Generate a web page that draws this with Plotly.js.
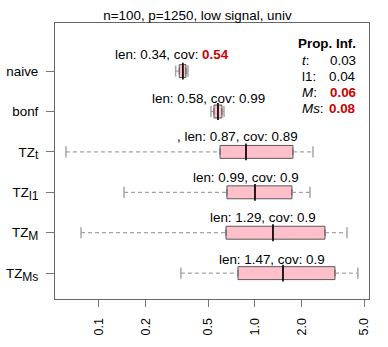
<!DOCTYPE html>
<html>
<head>
<meta charset="utf-8">
<script src="https://cdn.plot.ly/plotly-3.0.1.min.js"></script>
<style>
  html, body { margin: 0; padding: 0; background: #fff; }
  #chart { width: 388px; height: 347px; }
</style>
</head>
<body>
<div id="chart"></div>
<script>
// rows from top to bottom
const methods = ['naive', 'bonf', 'TZ', 'TZ', 'TZ', 'TZ'];
const methodSub = ['', '', 't', 'l1', 'M', 'Ms'];
const rowPos = [6, 5, 4, 3, 2, 1];

// interval lengths (log x axis)
const whiskLo = [0.310, 0.522, 0.0614, 0.1446, 0.0767, 0.335];
const q1      = [0.327, 0.546, 0.597, 0.661, 0.652, 0.778];
const median  = [0.345, 0.579, 0.876, 1.000, 1.304, 1.512];
const q3      = [0.361, 0.614, 1.752, 1.726, 2.810, 3.257];
const whiskHi = [0.372, 0.633, 2.354, 2.252, 3.890, 4.570];

// labels above each box
const lenVals = [0.34, 0.58, 0.87, 0.99, 1.29, 1.47];
const covVals = [0.54, 0.99, 0.89, 0.9, 0.9, 0.9];
const covLow = [true, false, false, false, false, false];
const labelPrefix = ['', '', ', ', '', '', ''];
const labelX = [0.294, 0.504, 0.773, 0.871, 1.125, 1.294];
const labelShift = [17, 13, 15, 15, 15, 14];

// "Prop. Inf." table
const propNames = ['<i>t</i>:', 'l1:', '<i>M</i>:', '<i>Ms</i>:'];
const propVals = ['0.03', '0.04', '0.06', '0.08'];
const propHot = [false, false, true, true];

const xTicks = [0.1, 0.2, 0.5, 1, 2, 5];
const xTickText = ['0.1', '0.2', '0.5', '1.0', '2.0', '5.0'];

const RED = '#CD0000';
const FONT = 'Liberation Sans, Arial, Helvetica, sans-serif';

// dashed whiskers
let wx = [], wy = [];
rowPos.forEach((y, i) => {
    wx.push(whiskLo[i], q1[i], null, q3[i], whiskHi[i], null);
    wy.push(y, y, null, y, y, null);
});

let staplesX = [], staplesY = [];
rowPos.forEach((y, i) => {
    staplesX.push(whiskLo[i], whiskHi[i]);
    staplesY.push(y, y);
});

let data = [
    {
        x: wx, y: wy,
        type: 'scatter', mode: 'lines',
        line: { color: '#8c8c8c', width: 1, dash: '4px,3px' },
        hoverinfo: 'skip'
    },
    {
        x: staplesX, y: staplesY,
        type: 'scatter', mode: 'markers',
        marker: { symbol: 'line-ns', size: 8, line: { color: '#a6a6a6', width: 1.5 } },
        hoverinfo: 'skip'
    },
    {
        type: 'box',
        orientation: 'h',
        y: rowPos,
        q1: q1,
        median: median,
        q3: q3,
        lowerfence: q1,
        upperfence: q3,
        width: 0.32,
        fillcolor: '#FFC0CB',
        line: { color: '#5a5a5a', width: 1 },
        hoverinfo: 'skip'
    },
    {
        x: median, y: rowPos,
        type: 'scatter', mode: 'markers',
        marker: { symbol: 'line-ns', size: 12, line: { color: '#000', width: 1.6 } },
        hoverinfo: 'skip'
    }
];

// y labels: TZ with a fairly large, low subscript, like R plotmath
let yLabels = methods.map((m, i) => methodSub[i]
    ? `${m}<sub><span style="font-size:12px">${methodSub[i]}</span></sub>`
    : m);

let annotations = rowPos.map((y, i) => {
    let cov = covLow[i]
        ? `<b><span style="color:${RED}">${covVals[i]}</span></b>`
        : `${covVals[i]}`;
    return {
        x: Math.log10(labelX[i]), y: y,
        xref: 'x', yref: 'y',
        yshift: labelShift[i],
        text: `${labelPrefix[i]}len: ${lenVals[i]}, cov: ${cov}`,
        showarrow: false,
        xanchor: 'center', yanchor: 'middle',
        font: { size: 13.4, color: '#000' }
    };
});

annotations.push({
    x: 0.965, y: 0.924, xref: 'paper', yref: 'paper',
    text: '<b>Prop. Inf.</b>', showarrow: false,
    xanchor: 'right', yanchor: 'middle',
    font: { size: 13.4, color: '#000' }
});
const propY = [0.863, 0.806, 0.75, 0.689];
propNames.forEach((name, i) => {
    annotations.push({
        x: 0.780, y: propY[i], xref: 'paper', yref: 'paper',
        text: name, showarrow: false,
        xanchor: 'left', yanchor: 'middle',
        font: { size: 13.4, color: '#000' }
    });
    annotations.push({
        x: 0.965, y: propY[i], xref: 'paper', yref: 'paper',
        text: propHot[i] ? `<b>${propVals[i]}</b>` : propVals[i],
        showarrow: false,
        xanchor: 'right', yanchor: 'middle',
        font: { size: 13.4, color: propHot[i] ? RED : '#000' }
    });
});

let layout = {
    width: 388,
    height: 347,
    margin: { l: 55, r: 19, t: 23, b: 48, pad: 0 },
    showlegend: false,
    paper_bgcolor: '#fff',
    plot_bgcolor: '#fff',
    font: { family: FONT, size: 13.4, color: '#000' },
    title: {
        text: 'n=100, p=1250, low signal, univ',
        x: 0.509, xref: 'container', xanchor: 'center',
        y: 0.957, yref: 'container', yanchor: 'middle',
        font: { size: 13.4, color: '#000' }
    },
    xaxis: {
        type: 'log',
        range: [-1.282, 0.731],
        tickvals: xTicks,
        ticktext: xTickText,
        tickangle: -90,
        ticks: 'outside',
        ticklen: 7,
        tickcolor: '#777',
        tickfont: { size: 12.5 },
        ticklabelstandoff: 6,
        showgrid: false,
        zeroline: false,
        showline: true,
        linecolor: '#666',
        mirror: true
    },
    yaxis: {
        range: [0.36, 7.19],
        tickvals: rowPos,
        ticktext: yLabels,
        ticks: 'outside',
        ticklen: 8,
        tickcolor: '#777',
        ticklabelstandoff: 5,
        showgrid: false,
        zeroline: false,
        showline: true,
        linecolor: '#666',
        mirror: true
    },
    annotations: annotations
};

Plotly.newPlot('chart', data, layout, { staticPlot: true, displayModeBar: false });
</script>
</body>
</html>
